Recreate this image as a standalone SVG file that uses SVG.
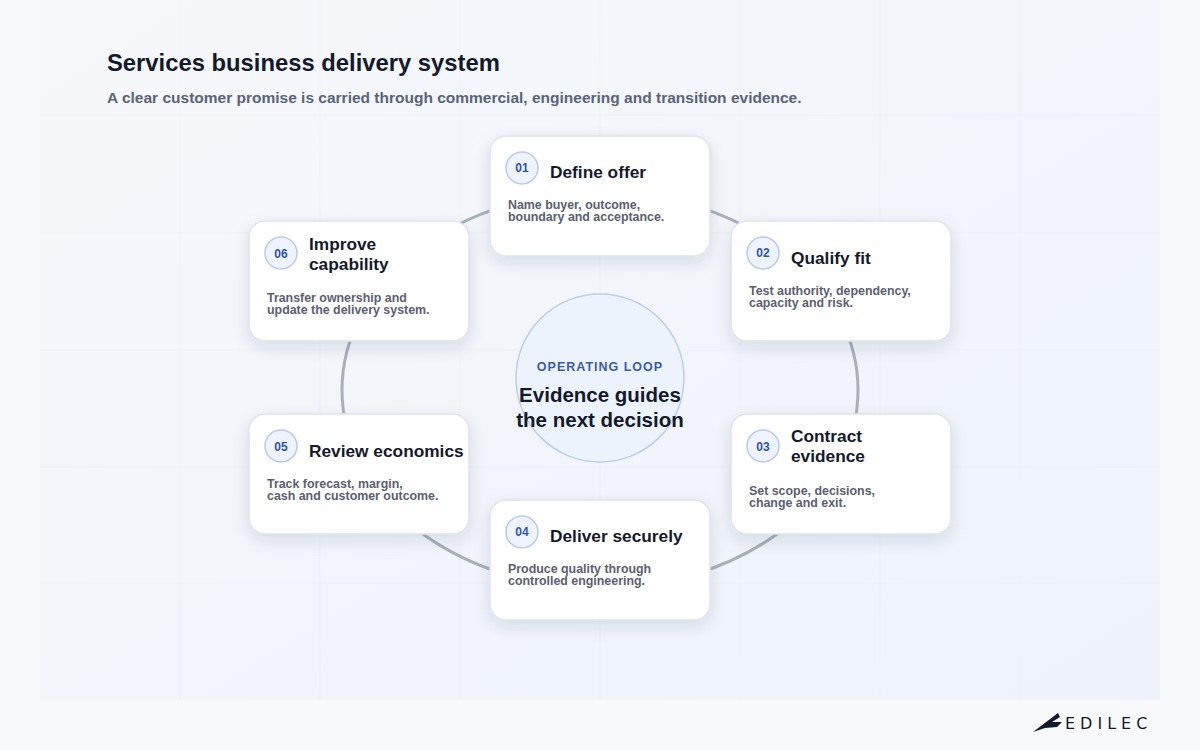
<svg xmlns="http://www.w3.org/2000/svg" width="1200" height="750" viewBox="0 0 1200 750">
<defs>
<linearGradient id="bg" x1="0" y1="0" x2="1" y2="1"><stop offset="0" stop-color="#f6f8fb"/><stop offset="1" stop-color="#eef3fb"/></linearGradient>
<filter id="sh" x="-20%" y="-20%" width="140%" height="150%"><feDropShadow dx="0" dy="6" stdDeviation="8" flood-color="#1e2a4a" flood-opacity="0.12"/></filter>
<style>
.card{fill:#fff;stroke:#dde3ee;stroke-width:1.5;filter:url(#sh)}
.badge{fill:#eef3fd;stroke:#b9c9ea;stroke-width:1.5}
.num{font:700 12px "Liberation Sans",Arial,sans-serif;fill:#2f55a4;text-anchor:middle}
.ttl{font:700 17.3px "Liberation Sans",Arial,sans-serif;fill:#141a2b}
.body{font:700 12.4px "Liberation Sans",Arial,sans-serif;fill:#5a6070}
.grid{stroke:#edf1f7;stroke-width:1}
</style>
</defs>
<rect width="1200" height="750" fill="#f8f9fb"/>
<rect x="40" y="0" width="1120" height="700" fill="url(#bg)"/>
<g class="grid">
<line x1="40" y1="115" x2="1160" y2="115"/><line x1="40" y1="233" x2="1160" y2="233"/><line x1="40" y1="350" x2="1160" y2="350"/><line x1="40" y1="467" x2="1160" y2="467"/><line x1="40" y1="583" x2="1160" y2="583"/>
<line x1="180" y1="0" x2="180" y2="700"/><line x1="320" y1="0" x2="320" y2="700"/><line x1="460" y1="0" x2="460" y2="700"/><line x1="600" y1="0" x2="600" y2="700"/><line x1="740" y1="0" x2="740" y2="700"/><line x1="880" y1="0" x2="880" y2="700"/><line x1="1020" y1="0" x2="1020" y2="700"/>
</g>
<text x="107" y="71" font-family="Liberation Sans,Arial,sans-serif" font-weight="700" font-size="23.8" fill="#141a2b">Services business delivery system</text>
<text x="107" y="103" font-family="Liberation Sans,Arial,sans-serif" font-weight="700" font-size="15.5" fill="#5a6478">A clear customer promise is carried through commercial, engineering and transition evidence.</text>
<g id="connectors"><ellipse cx="600" cy="390" rx="258" ry="198" fill="none" stroke="#a9afbb" stroke-width="3"/></g>
<g id="center"><circle cx="600" cy="378" r="84" fill="#edf3fc" stroke="#bccde9" stroke-width="1.5"/>
<text x="600" y="371" text-anchor="middle" font-family="Liberation Sans,Arial,sans-serif" font-weight="700" font-size="12.5" letter-spacing="1" fill="#3a5ca8">OPERATING LOOP</text>
<text x="600" y="402" text-anchor="middle" font-family="Liberation Sans,Arial,sans-serif" font-weight="700" font-size="20.5" fill="#141a2b">Evidence guides</text>
<text x="600" y="427" text-anchor="middle" font-family="Liberation Sans,Arial,sans-serif" font-weight="700" font-size="20.5" fill="#141a2b">the next decision</text></g>
<g id="n01"><rect class="card" x="490" y="136" width="220" height="120" rx="16"/><circle class="badge" cx="522" cy="168" r="16"/><text class="num" x="522" y="172">01</text><text class="ttl" x="550" y="178">Define offer</text><text class="body" x="508" y="209">Name buyer, outcome,</text><text class="body" x="508" y="221">boundary and acceptance.</text></g>
<g id="n02"><rect class="card" x="731" y="221" width="220" height="120" rx="16"/><circle class="badge" cx="763" cy="253" r="16"/><text class="num" x="763" y="257">02</text><text class="ttl" x="791" y="264">Qualify fit</text><text class="body" x="749" y="295">Test authority, dependency,</text><text class="body" x="749" y="307">capacity and risk.</text></g>
<g id="n03"><rect class="card" x="731" y="414" width="220" height="120" rx="16"/><circle class="badge" cx="763" cy="446" r="16"/><text class="num" x="763" y="451">03</text><text class="ttl" x="791" y="442">Contract</text><text class="ttl" x="791" y="462">evidence</text><text class="body" x="749" y="495">Set scope, decisions,</text><text class="body" x="749" y="507">change and exit.</text></g>
<g id="n04"><rect class="card" x="490" y="500" width="220" height="120" rx="16"/><circle class="badge" cx="522" cy="532" r="16"/><text class="num" x="522" y="536">04</text><text class="ttl" x="550" y="542">Deliver securely</text><text class="body" x="508" y="573">Produce quality through</text><text class="body" x="508" y="585">controlled engineering.</text></g>
<g id="n05"><rect class="card" x="249" y="414" width="220" height="120" rx="16"/><circle class="badge" cx="281" cy="446" r="16"/><text class="num" x="281" y="451">05</text><text class="ttl" x="309" y="457">Review economics</text><text class="body" x="267" y="488">Track forecast, margin,</text><text class="body" x="267" y="500">cash and customer outcome.</text></g>
<g id="n06"><rect class="card" x="249" y="221" width="220" height="120" rx="16"/><circle class="badge" cx="281" cy="253" r="16"/><text class="num" x="281" y="258">06</text><text class="ttl" x="309" y="250">Improve</text><text class="ttl" x="309" y="270">capability</text><text class="body" x="267" y="302">Transfer ownership and</text><text class="body" x="267" y="314">update the delivery system.</text></g>
<g id="logo"><path d="M1033 732 L1058 713 L1060 717 L1052 722 L1062 722 L1057 727 L1045 728 Z" fill="#141a2b"/>
<text x="1065" y="729" font-family="DejaVu Sans,sans-serif" font-size="16" letter-spacing="5" fill="#141a2b">EDILEC</text></g>
</svg>
